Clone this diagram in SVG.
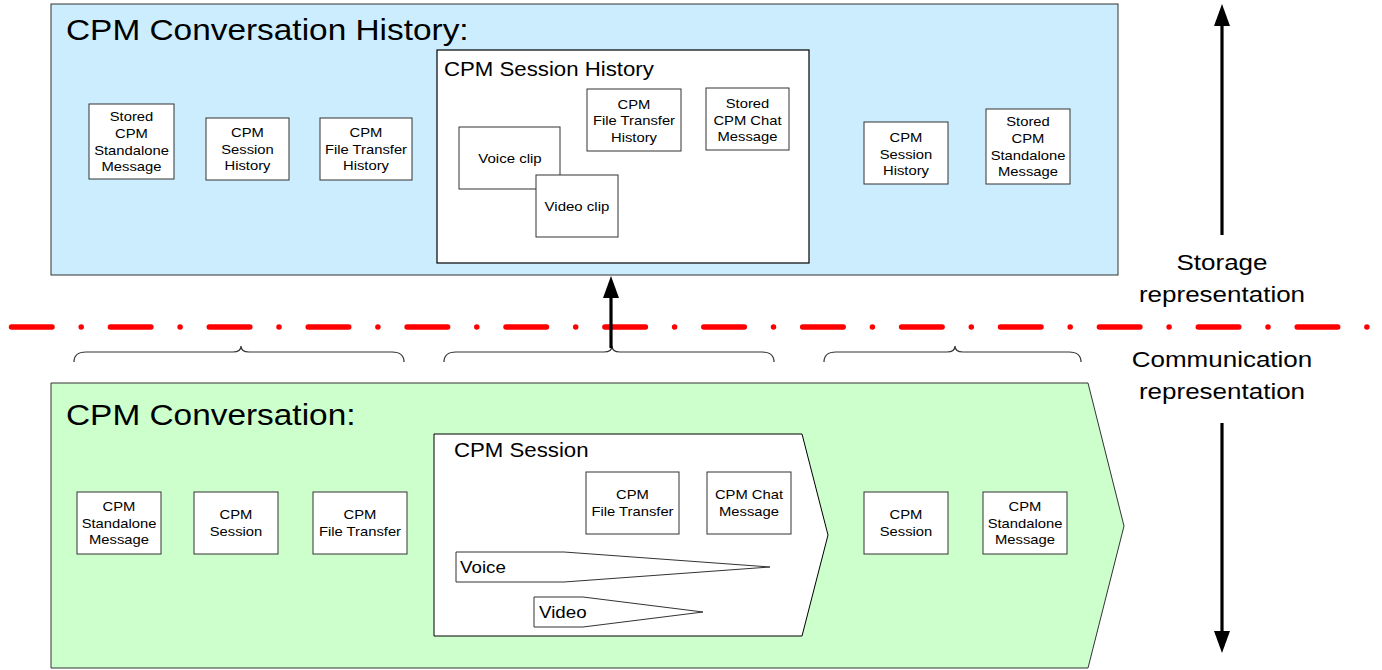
<svg xmlns="http://www.w3.org/2000/svg" width="1382" height="670" viewBox="0 0 1382 670">
<defs>
<style>
text{font-family:"Liberation Sans",Arial,sans-serif;fill:#000}
.sm{font-size:13.2px;text-anchor:middle}
.ttl{font-size:28.8px}
.sub{font-size:19.5px}
.lab{font-size:22.8px;text-anchor:middle}
.box{fill:#fff;stroke:#333;stroke-width:1}
.frame{stroke:#333;stroke-width:1}
.brace{fill:none;stroke:#333;stroke-width:1.2}
.arr{stroke:#000;stroke-width:3.2;fill:none}
</style>
<marker id="ah" viewBox="0 0 22 16" refX="0" refY="8" markerWidth="22" markerHeight="16" markerUnits="userSpaceOnUse" orient="auto">
<path d="M0,0 L22,8 L0,16 z" fill="#000"/>
</marker>
</defs>

<g id="conversation-history">
<rect class="frame" x="51" y="4" width="1067" height="271" fill="#CCEDFE"/>
<text class="ttl" transform="translate(66,40) scale(1.16,1)">CPM Conversation History:</text>
</g>

<g id="h-stored-standalone-1">
<rect class="box" x="89" y="104" width="85" height="75"/>
<text class="sm" transform="translate(131.5,121.2) scale(1.12,1)"><tspan x="0">Stored</tspan><tspan x="0" dy="16.7">CPM</tspan><tspan x="0" dy="16.7">Standalone</tspan><tspan x="0" dy="16.7">Message</tspan></text>
</g>
<g id="h-session-history-1">
<rect class="box" x="206" y="118" width="83" height="62"/>
<text class="sm" transform="translate(247.5,137) scale(1.12,1)"><tspan x="0">CPM</tspan><tspan x="0" dy="16.7">Session</tspan><tspan x="0" dy="16.7">History</tspan></text>
</g>
<g id="h-ft-history-1">
<rect class="box" x="320" y="118" width="92" height="62"/>
<text class="sm" transform="translate(366,137) scale(1.12,1)"><tspan x="0">CPM</tspan><tspan x="0" dy="16.7">File Transfer</tspan><tspan x="0" dy="16.7">History</tspan></text>
</g>

<g id="session-history">
<rect x="437" y="50" width="372" height="213" fill="#fff" stroke="#000" stroke-width="1.2"/>
<text class="sub" transform="translate(444,76) scale(1.14,1)">CPM Session History</text>
</g>
<g id="voice-clip">
<rect class="box" x="459" y="127" width="101" height="62"/>
<text class="sm" style="font-size:13.4px" transform="translate(510,162.5) scale(1.12,1)">Voice clip</text>
</g>
<g id="video-clip">
<rect class="box" x="536" y="175" width="82" height="62"/>
<text class="sm" style="font-size:13.4px" transform="translate(577,211) scale(1.12,1)">Video clip</text>
</g>
<g id="h-ft-history-inner">
<rect class="box" x="587" y="89" width="94" height="62"/>
<text class="sm" transform="translate(634,108.5) scale(1.12,1)"><tspan x="0">CPM</tspan><tspan x="0" dy="16.7">File Transfer</tspan><tspan x="0" dy="16.7">History</tspan></text>
</g>
<g id="h-stored-chat">
<rect class="box" x="706" y="88" width="83" height="62"/>
<text class="sm" transform="translate(747.5,108) scale(1.12,1)"><tspan x="0">Stored</tspan><tspan x="0" dy="16.7">CPM Chat</tspan><tspan x="0" dy="16.7">Message</tspan></text>
</g>

<g id="h-session-history-2">
<rect class="box" x="864" y="122" width="84" height="62"/>
<text class="sm" transform="translate(906,142) scale(1.12,1)"><tspan x="0">CPM</tspan><tspan x="0" dy="16.7">Session</tspan><tspan x="0" dy="16.7">History</tspan></text>
</g>
<g id="h-stored-standalone-2">
<rect class="box" x="986" y="109" width="84" height="75"/>
<text class="sm" transform="translate(1028,126.4) scale(1.12,1)"><tspan x="0">Stored</tspan><tspan x="0" dy="16.7">CPM</tspan><tspan x="0" dy="16.7">Standalone</tspan><tspan x="0" dy="16.7">Message</tspan></text>
</g>

<g id="separator">
<line x1="11.5" y1="327" x2="1372" y2="327" stroke="#FF0000" stroke-width="5.5" stroke-linecap="round" stroke-dasharray="40.5 29.2 0 29.2"/>
</g>

<g id="braces">
<path class="brace" d="M74,362 Q74,352 86,352 L233,352 Q241,352 241,346 Q241,352 249,352 L392,352 Q404,352 404,362"/>
<path class="brace" d="M444,362 Q444,352 456,352 L604,352 Q612,352 612,346 Q612,352 620,352 L762,352 Q774,352 774,362"/>
<path class="brace" d="M824,362 Q824,352 836,352 L947,352 Q955,352 955,346 Q955,352 963,352 L1069,352 Q1081,352 1081,362"/>
</g>

<g id="conversation">
<path class="frame" d="M51,383 L1088,383 L1124,526 L1088,668 L51,668 Z" fill="#CCFFCC"/>
<text class="ttl" transform="translate(66,425) scale(1.16,1)">CPM Conversation:</text>
</g>

<g id="c-standalone-1">
<rect class="box" x="77" y="492" width="84" height="62"/>
<text class="sm" transform="translate(119,511) scale(1.12,1)"><tspan x="0">CPM</tspan><tspan x="0" dy="16.7">Standalone</tspan><tspan x="0" dy="16.7">Message</tspan></text>
</g>
<g id="c-session-1">
<rect class="box" x="194" y="492" width="84" height="62"/>
<text class="sm" transform="translate(236,519.3) scale(1.12,1)"><tspan x="0">CPM</tspan><tspan x="0" dy="16.7">Session</tspan></text>
</g>
<g id="c-ft-1">
<rect class="box" x="313" y="492" width="94" height="62"/>
<text class="sm" transform="translate(360,519.3) scale(1.12,1)"><tspan x="0">CPM</tspan><tspan x="0" dy="16.7">File Transfer</tspan></text>
</g>

<g id="session">
<path d="M434,434 L802,434 L828,535 L802,636 L434,636 Z" fill="#fff" stroke="#000" stroke-width="1"/>
<text class="sub" transform="translate(454,457) scale(1.14,1)">CPM Session</text>
</g>
<g id="c-ft-inner">
<rect class="box" x="586" y="472" width="93" height="62"/>
<text class="sm" transform="translate(632.5,499.3) scale(1.12,1)"><tspan x="0">CPM</tspan><tspan x="0" dy="16.7">File Transfer</tspan></text>
</g>
<g id="c-chat">
<rect class="box" x="707" y="472" width="84" height="62"/>
<text class="sm" transform="translate(749,499.3) scale(1.12,1)"><tspan x="0">CPM Chat</tspan><tspan x="0" dy="16.7">Message</tspan></text>
</g>
<g id="voice">
<path class="box" d="M456,552 L564,552 L770,567 L564,582 L456,582 Z"/>
<text style="font-size:16.6px" transform="translate(460,572.5) scale(1.13,1)">Voice</text>
</g>
<g id="video">
<path class="box" d="M534,597 L583,597 L703,612 L583,627 L534,627 Z"/>
<text style="font-size:16.6px" transform="translate(539,617.5) scale(1.13,1)">Video</text>
</g>

<g id="c-session-2">
<rect class="box" x="864" y="492" width="84" height="62"/>
<text class="sm" transform="translate(906,519.3) scale(1.12,1)"><tspan x="0">CPM</tspan><tspan x="0" dy="16.7">Session</tspan></text>
</g>
<g id="c-standalone-2">
<rect class="box" x="983" y="492" width="84" height="62"/>
<text class="sm" transform="translate(1025,511) scale(1.12,1)"><tspan x="0">CPM</tspan><tspan x="0" dy="16.7">Standalone</tspan><tspan x="0" dy="16.7">Message</tspan></text>
</g>

<g id="labels">
<text class="lab" transform="translate(1222,269.5) scale(1.14,1)"><tspan x="0">Storage</tspan><tspan x="0" dy="33">representation</tspan></text>
<text class="lab" transform="translate(1222,366.5) scale(1.14,1)"><tspan x="0">Communication</tspan><tspan x="0" dy="33">representation</tspan></text>
</g>

<g id="connectors">
<line class="arr" x1="611" y1="348" x2="611" y2="298" marker-end="url(#ah)"/>
<line class="arr" x1="1222" y1="235" x2="1222" y2="26" marker-end="url(#ah)"/>
<line class="arr" x1="1222" y1="423" x2="1222" y2="631" marker-end="url(#ah)"/>
</g>
</svg>
